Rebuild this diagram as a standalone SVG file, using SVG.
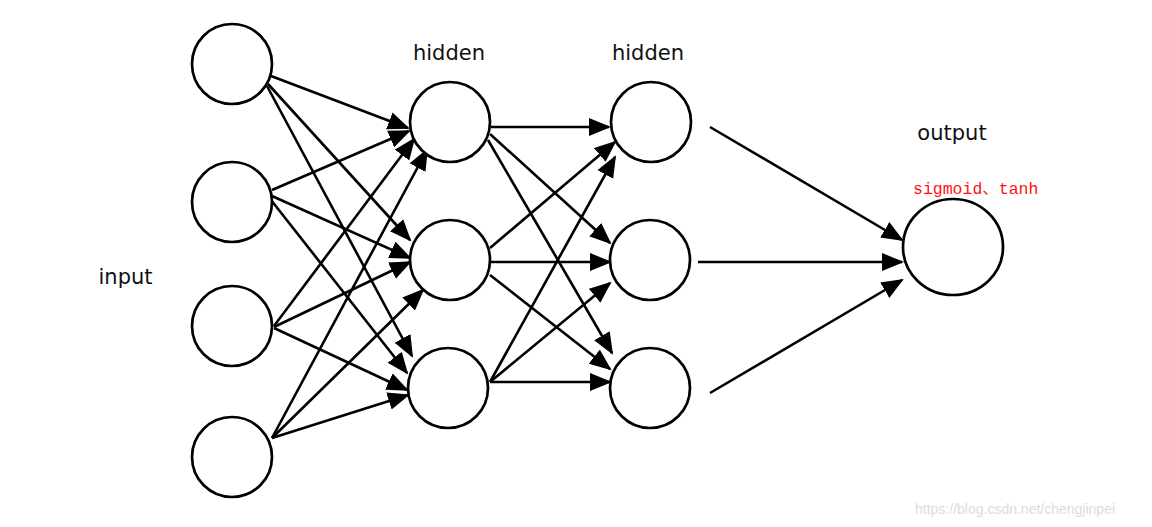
<svg xmlns="http://www.w3.org/2000/svg" width="1152" height="527" viewBox="0 0 1152 527">
  <defs>
    <marker id="arrow" markerUnits="userSpaceOnUse" markerWidth="23" markerHeight="19" refX="20" refY="9" orient="auto">
      <path d="M0,0 L22,9 L0,18 z" fill="#000"/>
    </marker>
    <style>
      .node { fill: #fff; stroke: #000; stroke-width: 2.7; }
      .edge { stroke: #000; stroke-width: 2.6; fill: none; marker-end: url(#arrow); }
      .label { font-family: "DejaVu Sans", Verdana, sans-serif; font-size: 21px; fill: #111; text-anchor: middle; }
      .red { font-family: "Liberation Mono", "Noto Sans CJK SC", monospace; font-size: 16.5px; fill: #ff1010; }
      .wm { font-family: "Liberation Sans", Arial, sans-serif; font-size: 14px; fill: #dcdcdc; }
    </style>
  </defs>
  <rect x="0" y="0" width="1152" height="527" fill="#fff"/>

  <g id="connectors">
    <line class="edge" x1="271" y1="76" x2="408" y2="128"/>
    <line class="edge" x1="268" y1="84" x2="410" y2="240"/>
    <line class="edge" x1="267" y1="86" x2="412" y2="356"/>
    <line class="edge" x1="272" y1="190" x2="409" y2="131"/>
    <line class="edge" x1="272" y1="196" x2="410" y2="258"/>
    <line class="edge" x1="271" y1="200" x2="407" y2="373"/>
    <line class="edge" x1="274" y1="326" x2="414" y2="139"/>
    <line class="edge" x1="274" y1="327" x2="410" y2="262"/>
    <line class="edge" x1="274" y1="328" x2="407" y2="390"/>
    <line class="edge" x1="272" y1="438" x2="427" y2="150"/>
    <line class="edge" x1="272" y1="438" x2="423" y2="290"/>
    <line class="edge" x1="272" y1="438" x2="408" y2="395"/>

    <line class="edge" x1="491" y1="127" x2="609" y2="127"/>
    <line class="edge" x1="490" y1="134" x2="610" y2="243"/>
    <line class="edge" x1="488" y1="140" x2="612" y2="353"/>
    <line class="edge" x1="490" y1="248" x2="615" y2="142"/>
    <line class="edge" x1="491" y1="262" x2="610" y2="262"/>
    <line class="edge" x1="490" y1="275" x2="610" y2="369"/>
    <line class="edge" x1="490" y1="382" x2="615" y2="157"/>
    <line class="edge" x1="490" y1="382" x2="610" y2="283"/>
    <line class="edge" x1="490" y1="382" x2="610" y2="382"/>

    <line class="edge" x1="710" y1="127" x2="902" y2="240"/>
    <line class="edge" x1="698" y1="262" x2="902" y2="262"/>
    <line class="edge" x1="710" y1="393" x2="902" y2="280"/>
  </g>

  <g id="input1"><circle class="node" cx="232" cy="64" r="40"/></g>
  <g id="input2"><circle class="node" cx="232" cy="202" r="40"/></g>
  <g id="input3"><circle class="node" cx="232" cy="326" r="40"/></g>
  <g id="input4"><circle class="node" cx="232" cy="457" r="40"/></g>

  <g id="hidden1a"><circle class="node" cx="450" cy="122" r="40"/></g>
  <g id="hidden1b"><circle class="node" cx="450" cy="260" r="40"/></g>
  <g id="hidden1c"><circle class="node" cx="448" cy="388" r="40"/></g>

  <g id="hidden2a"><circle class="node" cx="651" cy="122" r="40"/></g>
  <g id="hidden2b"><circle class="node" cx="650" cy="260" r="40"/></g>
  <g id="hidden2c"><circle class="node" cx="650" cy="388" r="40"/></g>

  <g id="output"><ellipse class="node" cx="953" cy="247" rx="50" ry="48"/></g>

  <g id="labels">
    <text class="label" x="125.5" y="284">input</text>
    <text class="label" x="449" y="60">hidden</text>
    <text class="label" x="648" y="60">hidden</text>
    <text class="label" x="952" y="140">output</text>
    <text class="red" x="913" y="194">sigmoid、tanh</text>
    <text class="wm" x="915" y="514">https://blog.csdn.net/chengjinpei</text>
  </g>
</svg>
